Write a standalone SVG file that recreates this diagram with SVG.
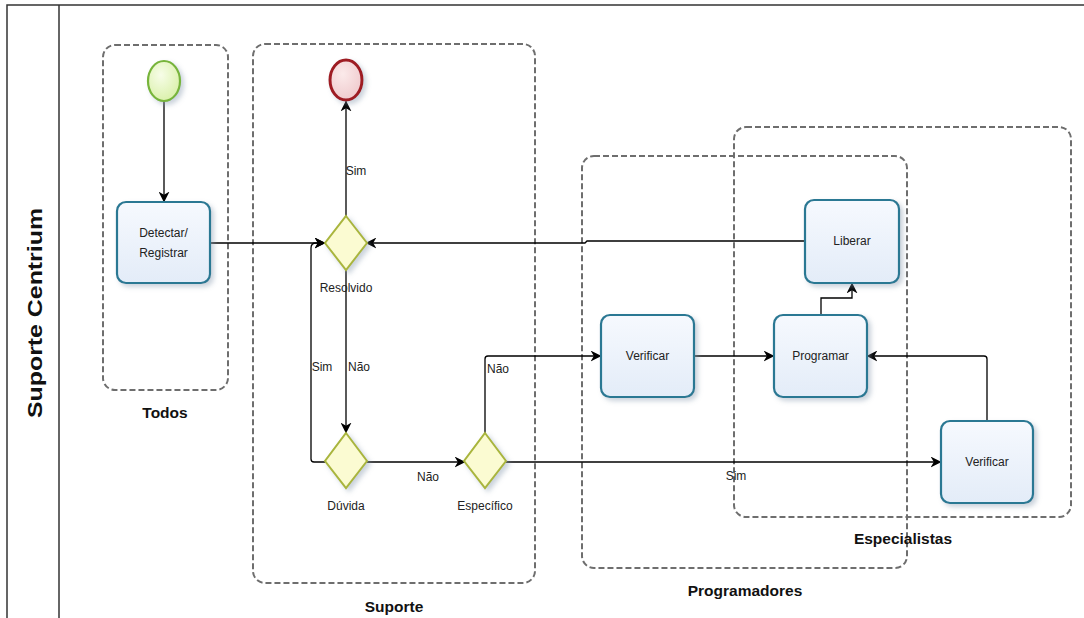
<svg xmlns="http://www.w3.org/2000/svg" width="1084" height="618" viewBox="0 0 1084 618">
  <defs>
    <linearGradient id="taskFill" x1="0" y1="0" x2="0" y2="1">
      <stop offset="0" stop-color="#f6f9fe"/>
      <stop offset="1" stop-color="#e3ecf8"/>
    </linearGradient>
    <radialGradient id="startFill" cx="0.4" cy="0.35" r="0.7">
      <stop offset="0" stop-color="#f7fde8"/>
      <stop offset="1" stop-color="#d9f0a8"/>
    </radialGradient>
    <radialGradient id="endFill" cx="0.4" cy="0.35" r="0.7">
      <stop offset="0" stop-color="#fbeaea"/>
      <stop offset="1" stop-color="#efc9cc"/>
    </radialGradient>
    <filter id="shadow" x="-20%" y="-20%" width="150%" height="150%">
      <feDropShadow dx="3" dy="3" stdDeviation="2.5" flood-color="#8a9bb0" flood-opacity="0.45"/>
    </filter>
    <marker id="arrow" viewBox="0 0 10 10" refX="9.5" refY="5" markerWidth="11" markerHeight="11" markerUnits="userSpaceOnUse" orient="auto">
      <path d="M0,0 L10,5 L0,10 L3,5 z" fill="#000"/>
    </marker>
  </defs>
  <style>
    .frame { fill: none; stroke: #333; stroke-width: 1.5; }
    .group { fill: none; stroke: #6e6e6e; stroke-width: 2; stroke-dasharray: 6 3; }
    .task { fill: url(#taskFill); stroke: #2c7893; stroke-width: 2.2; filter: url(#shadow); }
    .gate { fill: #fbfbd2; stroke: #a9b53c; stroke-width: 2; filter: url(#shadow); }
    .start { fill: url(#startFill); stroke: #77b43a; stroke-width: 2.2; filter: url(#shadow); }
    .end { fill: url(#endFill); stroke: #9e1b24; stroke-width: 3; filter: url(#shadow); }
    .flow { fill: none; stroke: #000; stroke-width: 1.3; marker-end: url(#arrow); }
    .flow-plain { fill: none; stroke: #000; stroke-width: 1.3; }
    .lbl { font-family: "Liberation Sans", Arial, sans-serif; font-size: 12px; fill: #222; text-anchor: middle; }
    .glbl { font-family: "Liberation Sans", Arial, sans-serif; font-size: 15.5px; font-weight: bold; fill: #111; text-anchor: middle; }
    .lane { font-family: "Liberation Sans", Arial, sans-serif; font-size: 20px; font-weight: bold; fill: #111; text-anchor: middle; }
  </style>

  <!-- pool / lane frame -->
  <g id="lane">
    <path class="frame" d="M7,618 V5 H1084"/>
    <line class="frame" x1="59" y1="5" x2="59" y2="618"/>
    <text class="lane" transform="translate(42,313) rotate(-90)" textLength="210" lengthAdjust="spacingAndGlyphs">Suporte Centrium</text>
  </g>

  <!-- role groups -->
  <g id="group-todos">
    <rect class="group" x="103" y="45" width="125" height="345" rx="12"/>
    <text class="glbl" x="165" y="418">Todos</text>
  </g>
  <g id="group-suporte">
    <rect class="group" x="253" y="44" width="282" height="539" rx="12"/>
    <text class="glbl" x="394" y="612">Suporte</text>
  </g>
  <g id="group-programadores">
    <rect class="group" x="582" y="156" width="325" height="412" rx="12"/>
    <text class="glbl" x="745" y="596">Programadores</text>
  </g>
  <g id="group-especialistas">
    <rect class="group" x="734" y="127" width="337" height="390" rx="12"/>
    <text class="glbl" x="903" y="544">Especialistas</text>
  </g>

  <!-- sequence flows -->
  <g id="connectors">
    <path class="flow" d="M164,101 V202"/>
    <path class="flow" d="M210,243 H325"/>
    <path class="flow" d="M346,216 V101"/>
    <path class="flow" d="M346,270 V433"/>
    <path class="flow" d="M325,462 H314 Q311,462 311,459 V248 Q311,243 316,243 H325"/>
    <path class="flow" d="M366,462 H465"/>
    <path class="flow" d="M485,433 V359 Q485,356 488,356 H601"/>
    <path class="flow" d="M505,462 H941"/>
    <path class="flow" d="M694,356 H774"/>
    <path class="flow" d="M987,421 V359 Q987,356 984,356 H867"/>
    <path class="flow" d="M821,315 V298 H852 V283"/>
    <path class="flow" d="M805,241 H587 L585,243 H366"/>
    <text class="lbl" x="356" y="175">Sim</text>
    <text class="lbl" x="359" y="371">Não</text>
    <text class="lbl" x="322" y="371">Sim</text>
    <text class="lbl" x="428" y="481">Não</text>
    <text class="lbl" x="498" y="373">Não</text>
    <text class="lbl" x="736" y="480">Sim</text>
  </g>

  <!-- events -->
  <g id="start">
    <ellipse class="start" cx="164" cy="81" rx="16" ry="20"/>
  </g>
  <g id="end">
    <ellipse class="end" cx="346" cy="80" rx="16" ry="20"/>
  </g>

  <!-- tasks -->
  <g id="detectar">
    <rect class="task" x="117" y="202" width="93" height="81" rx="9"/>
    <text class="lbl" x="163.5" y="237">Detectar/</text>
    <text class="lbl" x="163.5" y="257">Registrar</text>
  </g>
  <g id="verificar-prog">
    <rect class="task" x="601" y="315" width="93" height="82" rx="9"/>
    <text class="lbl" x="647.5" y="360">Verificar</text>
  </g>
  <g id="programar">
    <rect class="task" x="774" y="315" width="93" height="82" rx="9"/>
    <text class="lbl" x="820.5" y="360">Programar</text>
  </g>
  <g id="liberar">
    <rect class="task" x="805" y="200" width="94" height="83" rx="9"/>
    <text class="lbl" x="852" y="245">Liberar</text>
  </g>
  <g id="verificar-esp">
    <rect class="task" x="941" y="421" width="92" height="82" rx="9"/>
    <text class="lbl" x="987" y="466">Verificar</text>
  </g>

  <!-- gateways -->
  <g id="resolvido">
    <polygon class="gate" points="346,216 367,243 346,270 325,243"/>
    <text class="lbl" x="346" y="292">Resolvido</text>
  </g>
  <g id="duvida">
    <polygon class="gate" points="346,433 367,461 346,488 325,461"/>
    <text class="lbl" x="346" y="510">Dúvida</text>
  </g>
  <g id="especifico">
    <polygon class="gate" points="485,433 506,461 485,488 464,461"/>
    <text class="lbl" x="485" y="510">Específico</text>
  </g>
</svg>
